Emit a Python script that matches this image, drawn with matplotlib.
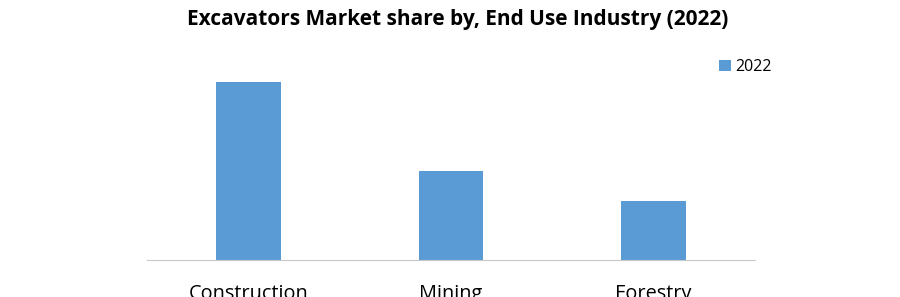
import matplotlib.pyplot as plt

# market share by end use industry (%)
industries = ['Construction', 'Mining', 'Forestry']
share_2022 = [54.6, 27.3, 18.1]
series_name = '2022'

bar_color = '#5b9bd5'

plt.rcParams['font.family'] = ['Open Sans', 'DejaVu Sans']

fig = plt.figure(figsize=(9, 2.97), dpi=100)
ax = fig.add_axes([147 / 900, 1 - 260 / 297, 608 / 900, 220 / 297])

x = range(len(industries))
ax.bar(x, share_2022, width=0.32, color=bar_color, label=series_name)

ax.set_xlim(-0.5, len(industries) - 0.5)
ax.set_ylim(0, 54.6 * 220 / 178)
ax.set_xticks(list(x))
ax.set_xticklabels(industries, fontsize=14.3)
ax.tick_params(axis='x', length=0, pad=17)
ax.set_yticks([])

for side in ['top', 'right', 'left']:
    ax.spines[side].set_visible(False)
ax.spines['bottom'].set_color('#c8c8c8')
ax.spines['bottom'].set_linewidth(0.8)
ax.spines['bottom'].set_linestyle((0, (1, 1)))

fig.text(0.508, 1 - 19 / 297, 'Excavators Market share by, End Use Industry (2022)',
         ha='center', va='center', fontsize=15, fontweight='bold')

fig.legend(loc='center left', bbox_to_anchor=(705 / 900, 1 - 67 / 297), frameon=False,
           fontsize=11.5, handlelength=0.7, handleheight=0.7, handletextpad=0.3)

fig.savefig('out.png', dpi=100)
